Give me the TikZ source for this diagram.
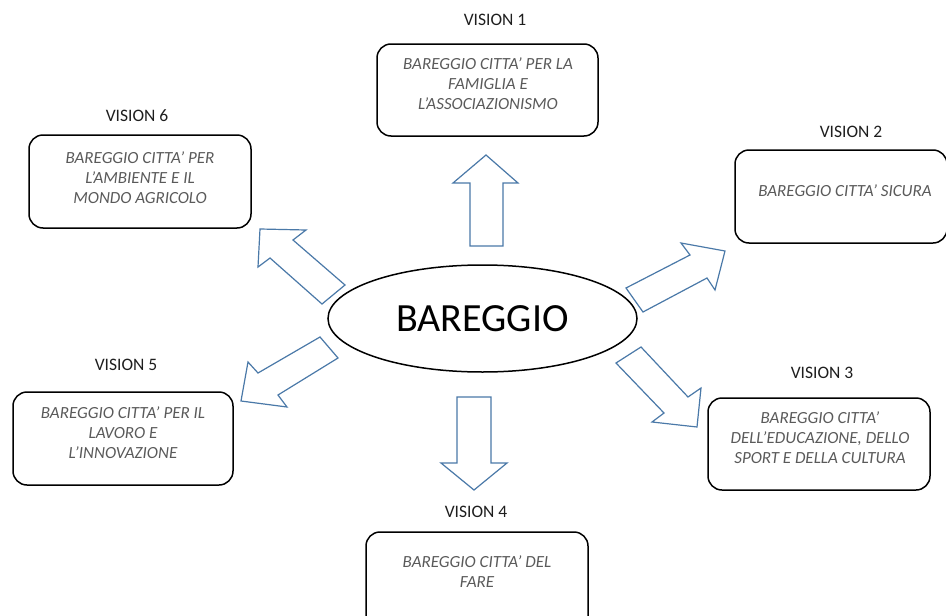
\documentclass[tikz,border=0pt]{standalone}
\usepackage{fontspec}
\setmainfont{Carlito}
\usetikzlibrary{shapes.geometric}
\definecolor{arrowblue}{HTML}{4A79A8}
\definecolor{txtgray}{HTML}{5A5A5A}
\definecolor{lblblack}{HTML}{1E1E1E}
\begin{document}
\begin{tikzpicture}[x=1pt,y=-1pt,
  visbox/.style={draw=black,line width=1.5pt,rounded corners=14pt,inner sep=0pt},
  vistext/.style={text=txtgray,font=\fontsize{17}{20}\selectfont\itshape,align=center,inner sep=0pt},
  vislabel/.style={text=lblblack,font=\fontsize{17.5}{19}\selectfont,inner sep=0pt},
  blockarrow/.style={draw=arrowblue,line width=1.2pt,fill=white,line join=miter}]
\useasboundingbox (0,0) rectangle (946,616);
\clip (0,0) rectangle (946,616);
\fill[white] (0,0) rectangle (946,616);

% centre
\node[draw=black,line width=1.5pt,ellipse,minimum width=309pt,minimum height=107pt,inner sep=0pt,
  font=\fontsize{40}{44}\selectfont] (c) at (482.5,318.5) {BAREGGIO};

% boxes
\node[visbox,minimum width=221pt,minimum height=92pt] (b1) at (487.5,90) {};
\node[visbox,minimum width=212pt,minimum height=93pt] (b2) at (841,196.5) {};
\node[visbox,minimum width=222pt,minimum height=92pt] (b3) at (819,444) {};
\node[visbox,minimum width=222pt,minimum height=110pt] (b4) at (477,587) {};
\node[visbox,minimum width=220pt,minimum height=93pt] (b5) at (123,438.5) {};
\node[visbox,minimum width=222pt,minimum height=93pt] (b6) at (140,181.5) {};

% labels
\node[vislabel] (l1) at (495,20) {VISION 1};
\node[vislabel] (l2) at (851,132) {VISION 2};
\node[vislabel] (l3) at (822,373) {VISION 3};
\node[vislabel] (l4) at (476,512) {VISION 4};
\node[vislabel] (l5) at (126,365) {VISION 5};
\node[vislabel] (l6) at (137,116) {VISION 6};

% texts
\node[vistext] (t1) at (488,84) {BAREGGIO CITTA’ PER LA\\FAMIGLIA E\\L’ASSOCIAZIONISMO};
\node[vistext] (t2) at (845,191) {BAREGGIO CITTA’ SICURA};
\node[vistext] (t3) at (820,438) {BAREGGIO CITTA’\\DELL’EDUCAZIONE, DELLO\\SPORT E DELLA CULTURA};
\node[vistext] (t4) at (477,572) {BAREGGIO CITTA’ DEL\\FARE};
\node[vistext] (t5) at (123,433) {BAREGGIO CITTA’ PER IL\\LAVORO E\\L’INNOVAZIONE};
\node[vistext] (t6) at (140,178) {BAREGGIO CITTA’ PER\\L’AMBIENTE E IL\\MONDO AGRICOLO};

% block arrows
\draw[blockarrow] (470,246) -- (470,183) -- (453,183) -- (486,155) -- (518,183) -- (503,183) -- (503,246) -- cycle;
\draw[blockarrow] (457,397) -- (491,397) -- (491,463) -- (507,463) -- (474,490) -- (441,463) -- (457,463) -- cycle;
\draw[blockarrow] (626,288) -- (690,255) -- (681,243) -- (725,251) -- (715,290) -- (707,278) -- (643,312) -- cycle;
\draw[blockarrow] (641,347) -- (688,397) -- (701,388) -- (697,427) -- (652,422) -- (664,413) -- (616,363) -- cycle;
\draw[blockarrow] (345,285) -- (293,240) -- (306,230) -- (260,229) -- (258,267) -- (270,258) -- (322,304) -- cycle;
\draw[blockarrow] (320,337) -- (338,358) -- (278,395) -- (287,407) -- (241,401) -- (248,362) -- (258,373) -- cycle;
\end{tikzpicture}
\end{document}
